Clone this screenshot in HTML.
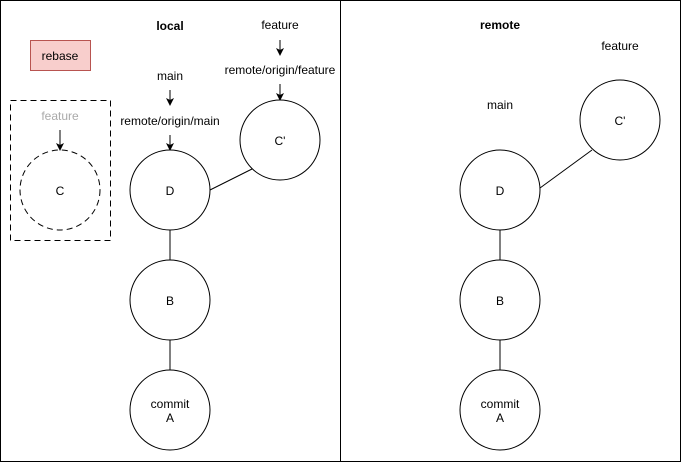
<!DOCTYPE html>
<html><head><style>body{margin:0;background:#fff}</style></head><body>
<svg width="681" height="462" xmlns="http://www.w3.org/2000/svg" font-family="Liberation Sans, Helvetica, sans-serif" font-size="12" text-anchor="middle">
<defs><marker id="a" markerWidth="8" markerHeight="8" refX="7" refY="4" orient="auto" markerUnits="userSpaceOnUse"><path d="M0,0 L8,4 L0,8 L2,4 Z" fill="#000"/></marker></defs>
<rect x="0.5" y="0.5" width="680" height="461" fill="none" stroke="#000"/>
<line x1="340.5" y1="0" x2="340.5" y2="462" stroke="#000"/>
<rect x="30.5" y="40.5" width="60" height="30" fill="#f8cecc" stroke="#b85450"/>
<text x="60" y="60">rebase</text>
<rect x="10.5" y="100.5" width="100" height="140" fill="none" stroke="#000" stroke-dasharray="6,4"/>
<text x="60" y="120" fill="#aaa">feature</text>
<line x1="60" y1="130" x2="60" y2="150" stroke="#000" marker-end="url(#a)"/>
<circle cx="60" cy="190" r="40" fill="none" stroke="#000" stroke-dasharray="6,4"/>
<text x="60" y="195">C</text>
<text x="170" y="30" font-weight="bold">local</text>
<text x="170" y="80">main</text>
<line x1="170" y1="90" x2="170" y2="105" stroke="#000" marker-end="url(#a)"/>
<text x="170" y="125">remote/origin/main</text>
<line x1="170" y1="135" x2="170" y2="150" stroke="#000" marker-end="url(#a)"/>
<text x="280" y="29">feature</text>
<line x1="280" y1="40" x2="280" y2="55" stroke="#000" marker-end="url(#a)"/>
<text x="280" y="74">remote/origin/feature</text>
<line x1="280" y1="84" x2="280" y2="100" stroke="#000" marker-end="url(#a)"/>
<line x1="210" y1="190" x2="252" y2="169" stroke="#000"/>
<line x1="170" y1="230" x2="170" y2="260" stroke="#000"/>
<line x1="170" y1="340" x2="170" y2="370" stroke="#000"/>
<g fill="#fff" stroke="#000">
<circle cx="170" cy="190" r="40"/><circle cx="280" cy="140" r="40"/><circle cx="170" cy="300" r="40"/><circle cx="170" cy="410" r="40"/>
</g>
<text x="170" y="195">D</text><text x="280" y="145">C'</text><text x="170" y="305">B</text>
<text x="170" y="408">commit</text><text x="170" y="422">A</text>
<text x="500" y="29" font-weight="bold">remote</text>
<text x="620" y="50">feature</text>
<text x="500" y="109">main</text>
<line x1="540" y1="188" x2="592" y2="150" stroke="#000"/>
<line x1="500" y1="230" x2="500" y2="260" stroke="#000"/>
<line x1="500" y1="340" x2="500" y2="370" stroke="#000"/>
<g fill="#fff" stroke="#000">
<circle cx="500" cy="190" r="40"/><circle cx="620" cy="120" r="40"/><circle cx="500" cy="300" r="40"/><circle cx="500" cy="410" r="40"/>
</g>
<text x="500" y="195">D</text><text x="620" y="125">C'</text><text x="500" y="305">B</text>
<text x="500" y="408">commit</text><text x="500" y="422">A</text>
</svg>
</body></html>
